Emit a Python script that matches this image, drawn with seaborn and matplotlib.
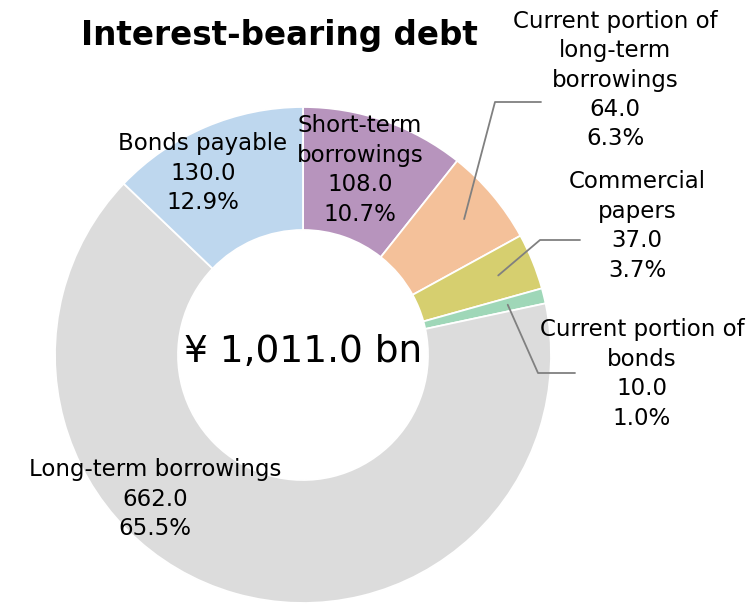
import numpy as np
import matplotlib
matplotlib.use("Agg")
import matplotlib.pyplot as plt
import seaborn as sns

# slices, clockwise from 12 o'clock
categories = ["Short-term\nborrowings", "Current portion of\nlong-term\nborrowings",
              "Commercial\npapers", "Current portion of\nbonds",
              "Long-term borrowings", "Bonds payable"]
amounts = [108.0, 64.0, 37.0, 10.0, 662.0, 130.0]
shares = [10.7, 6.3, 3.7, 1.0, 65.5, 12.9]
colors = ["#B794BD", "#F4C19A", "#D6CF6F", "#9FD7B8", "#DCDCDC", "#BED7EE"]
total_label = "¥ 1,011.0 bn"
title = "Interest-bearing debt"

sns.set_theme(style="white")
plt.rcParams['font.family'] = ['DejaVu Sans']

W, H = 751, 605
cx, cy, R = 303, 355, 248          # pie centre / radius in pixels


def to_data(px, py):
    return (px - cx) / R, (cy - py) / R


fig = plt.figure(figsize=(W / 100, H / 100), dpi=100)
fig.patch.set_facecolor("white")
ax = fig.add_axes([(cx - R) / W, (H - cy - R) / H, 2 * R / W, 2 * R / H])

wedges, _ = ax.pie(amounts, colors=colors, startangle=90, counterclock=False,
                   radius=1, wedgeprops=dict(width=123 / R, edgecolor="white", linewidth=1.3))
ax.set_xlim(-1, 1)
ax.set_ylim(-1, 1)
ax.axis("off")

# label block centres (pixels)
label_pos = [(360, 170), (615, 80), (637, 226), (642, 374), (155, 499), (203, 173)]
# leader lines: elbow and end (pixels), None = no leader
leaders = [None, ((495, 102), (541, 102)), ((540, 240), (580, 240)),
           ((538, 373), (575, 373)), None, None]

for i, w in enumerate(wedges):
    txt = f"{categories[i]}\n{amounts[i]:.1f}\n{shares[i]:.1f}%"
    x, y = to_data(*label_pos[i])
    ax.text(x, y, txt, ha="center", va="center", fontsize=16.5, color="black",
            linespacing=1.36)
    if leaders[i] is not None:
        mid = np.deg2rad((w.theta1 + w.theta2) / 2)
        sx, sy = 0.85 * np.cos(mid), 0.85 * np.sin(mid)
        ex, ey = to_data(*leaders[i][0])
        fx, fy = to_data(*leaders[i][1])
        ax.plot([sx, ex, fx], [sy, ey, fy], color="#808080", lw=1.3, clip_on=False)

tx, ty = to_data(303, 352)
ax.text(tx, ty, total_label, ha="center", va="center", fontsize=27, color="black")
fig.text(279 / W, 1 - 35 / H, title, ha="center", va="center",
         fontsize=23.5, fontweight="bold", color="black")

fig.savefig("out.png", dpi=100, facecolor="white")
